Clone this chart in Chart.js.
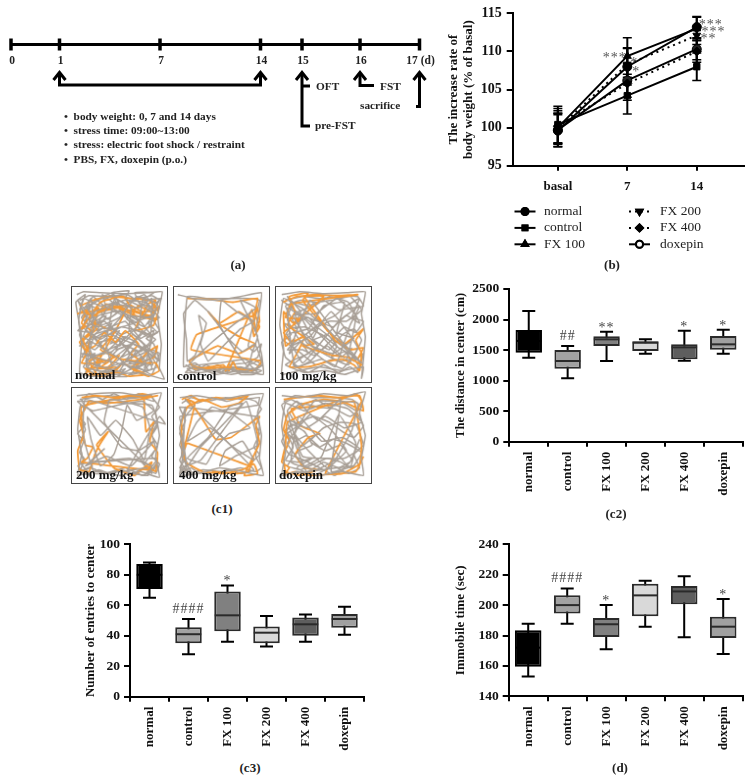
<!DOCTYPE html>
<html>
<head>
<meta charset="utf-8">
<script src="https://cdn.jsdelivr.net/npm/chart.js"></script>
<style>
body { margin: 0; background: #fff; }
#page { position: relative; width: 752px; height: 783px; overflow: hidden; font-family: "Liberation Serif", serif; color: #111; }
canvas { position: absolute; }
.t { position: absolute; transform: translateY(-50%); font-weight: bold; font-size: 11.3px; white-space: nowrap; color: #222; }
.cap { position: absolute; transform: translate(-50%, -50%); font-weight: bold; font-size: 13px; color: #222; }
.lab { position: absolute; transform: translateY(-50%); font-weight: bold; font-size: 13px; color: #111; z-index: 3; }
.panel { border: 1.5px solid #444; box-sizing: border-box; }
</style>
</head>
<body>
<div id="page">
  <canvas id="timeline" width="440" height="280" style="left:0;top:0"></canvas>
  <canvas id="weight" width="312" height="280" style="left:440px;top:0"></canvas>
  <canvas id="c1a" class="panel" width="97" height="97" style="left:71px;top:286px"></canvas>
  <canvas id="c1b" class="panel" width="97" height="97" style="left:173px;top:286px"></canvas>
  <canvas id="c1c" class="panel" width="97" height="97" style="left:275px;top:286px"></canvas>
  <canvas id="c1d" class="panel" width="97" height="97" style="left:71px;top:387px"></canvas>
  <canvas id="c1e" class="panel" width="97" height="97" style="left:173px;top:387px"></canvas>
  <canvas id="c1f" class="panel" width="97" height="97" style="left:275px;top:387px"></canvas>
  <canvas id="c2" width="312" height="250" style="left:440px;top:270px"></canvas>
  <canvas id="c3" width="300" height="230" style="left:70px;top:530px"></canvas>
  <canvas id="d" width="312" height="230" style="left:440px;top:530px"></canvas>

  <div class="t" style="left:316px;top:86px">OFT</div>
  <div class="t" style="left:380px;top:86px">FST</div>
  <div class="t" style="left:360px;top:105px">sacrifice</div>
  <div class="t" style="left:315px;top:125px">pre-FST</div>
  <div class="t" style="left:64px;top:116px">•&nbsp;&nbsp;body weight: 0, 7 and 14 days</div>
  <div class="t" style="left:64px;top:130px">•&nbsp;&nbsp;stress time: 09:00~13:00</div>
  <div class="t" style="left:64px;top:144px">•&nbsp;&nbsp;stress: electric foot shock / restraint</div>
  <div class="t" style="left:64px;top:159px">•&nbsp;&nbsp;PBS, FX, doxepin (p.o.)</div>

  <div class="lab" style="left:75px;top:375px">normal</div>
  <div class="lab" style="left:177px;top:376px">control</div>
  <div class="lab" style="left:279px;top:376px">100 mg/kg</div>
  <div class="lab" style="left:76px;top:475px">200 mg/kg</div>
  <div class="lab" style="left:179px;top:475px">400 mg/kg</div>
  <div class="lab" style="left:279px;top:475px">doxepin</div>

  <div class="cap" style="left:238px;top:265px">(a)</div>
  <div class="cap" style="left:612px;top:265px">(b)</div>
  <div class="cap" style="left:222px;top:509px">(c1)</div>
  <div class="cap" style="left:616px;top:514px">(c2)</div>
  <div class="cap" style="left:250px;top:768px">(c3)</div>
  <div class="cap" style="left:620px;top:768px">(d)</div>
</div>

<script>
// groups
const groups = ["normal", "control", "FX 100", "FX 200", "FX 400", "doxepin"];
const boxColors = ["#000000", "#a2a2a2", "#808080", "#d9d9d9", "#5e5e5e", "#a0a0a0"];

// (a) schedule
const days = ["0", "1", "7", "14", "15", "16", "17 (d)"];
const daySlots = [0.22, 1.19, 3.2, 5.21, 6.04, 7.2, 8.39];
const bracketPath = [[1.19, 1.46], [1.19, 1.7], [5.21, 1.7], [5.21, 1.46]];
const oftPath = [[6.04, 1.46], [6.04, 2.52], [6.2, 2.52]];
const oftBranch = [[6.04, 1.72], [6.2, 1.72]];
const fstPath = [[7.2, 1.46], [7.2, 1.71], [7.48, 1.71]];
const sacrificePath = [[8.39, 1.46], [8.39, 2.13], [8.32, 2.13]];
const arrowSlots = [1.19, 5.21, 6.04, 7.2, 8.39];

// (b) body weight
const weightLabels = ["basal", "7", "14"];
const weightNormal = [99.6, 108, 113.2];
const weightControl = [100.4, 104.2, 108];
const weightFx100 = [100, 109.4, 113];
const weightFx200 = [99.9, 108.3, 112.1];
const weightFx400 = [100.2, 105.8, 110];
const weightDoxepin = [99.7, 106.2, 110.3];
const errNormal = [2.1, 2.4, 1.4];
const errControl = [2.4, 2.4, 1.8];
const errFx100 = [2.2, 2.4, 1.5];
const errFx200 = [2.0, 2.2, 1.2];
const errFx400 = [2.3, 2.2, 1.4];
const errDoxepin = [2.2, 2.2, 1.4];
// star text, x on the day axis (0 = basal), y on the value axis
const weightStars = [
    ["***", 2.2, 113.8], ["***", 2.24, 112.8], ["**", 2.17, 111.9],
    ["***", 0.82, 109.4], ["*", 1.1, 108.7], ["*", 1.13, 107.6]
];

// (c2) distance in center
const c2Low = [1376, 1037, 1321, 1441, 1327, 1441];
const c2Q1 = [1458, 1196, 1567, 1485, 1349, 1507];
const c2Med = [1650, 1321, 1676, 1620, 1545, 1594];
const c2Q3 = [1829, 1501, 1725, 1643, 1594, 1731];
const c2High = [2140, 1567, 1802, 1676, 1818, 1834];
const c2Marks = ["", "##", "**", "", "*", "*"];

// (c3) entries to center
const c3Low = [65, 27.8, 36, 33, 36, 40.7];
const c3Q1 = [70.7, 35, 43, 35, 40, 45.3];
const c3Med = [80, 41, 53.4, 42, 47.5, 51];
const c3Q3 = [87, 45.5, 69, 46, 52, 54.3];
const c3High = [88, 51, 73, 53, 54, 59];
const c3Marks = ["", "####", "*", "", "", ""];

// (d) immobile time
const dLow = [153, 187.8, 171, 185.8, 178.8, 167.9];
const dQ1 = [159.5, 194.4, 179, 192.6, 200.5, 178.4];
const dMed = [172, 200, 187.4, 206.4, 209, 185.8];
const dQ3 = [183.4, 206.5, 191.5, 214, 212.6, 192.4];
const dHigh = [187.8, 211, 200, 216, 219, 204];
const dMarks = ["", "####", "*", "", "", "*"];

// (c1) open field tracks, traced by eye, x y x y ... on a 0-100 square
const normalGrey = [5,8, 12,5, 30,6, 55,7, 80,6, 95,5, 90,30, 94,60, 92,85, 97,97, 70,90, 45,92, 20,94, 8,90, 10,60, 7,35, 12,12, 30,20, 55,14, 78,16, 88,28, 70,35, 50,25, 28,30, 15,45, 30,55, 52,42, 75,48, 88,55, 72,68, 52,60, 30,70, 14,78, 35,85, 60,78, 85,82, 75,60, 60,45, 62,22, 45,12, 40,35, 36,60, 42,82, 55,70, 68,55, 82,40, 90,18, 68,10, 50,32, 25,42, 12,25, 20,12, 22,35, 18,62, 28,88, 50,88, 65,65, 78,78, 88,70, 60,58, 40,50, 18,55, 38,22, 60,30, 85,32, 75,12, 70,40, 55,55, 42,68, 22,72, 10,70, 32,76, 55,82, 80,88, 72,74, 62,86, 48,74, 28,62, 12,52, 24,26, 46,18, 70,22, 84,12, 82,58, 65,72, 38,90, 15,84, 24,50, 44,44, 66,38, 80,24, 58,8, 32,12, 16,22, 34,44, 56,36, 72,54, 86,46, 76,86];
const normalGreyUnder = [8,14, 18,9, 36,10, 50,9, 66,13, 84,9, 92,14, 86,22, 74,18, 60,26, 46,16, 34,26, 20,20, 10,32, 18,40, 30,36, 44,30, 58,20, 72,28, 86,36, 92,46, 80,52, 66,44, 52,50, 38,40, 26,48, 14,60, 24,66, 36,54, 50,62, 64,50, 78,62, 90,76, 78,68, 64,60, 48,66, 34,80, 20,74, 12,84, 26,92, 40,86, 54,90, 68,84, 84,92, 92,70, 84,66, 70,72, 56,76, 44,88, 30,84, 16,70, 8,50, 20,30, 40,24, 62,34, 76,42, 88,24, 76,8, 56,18, 38,8, 22,16, 12,42, 28,58, 46,54, 60,68, 74,80, 58,94, 36,94, 18,88];
const normalGreyMore = [4,16, 14,8, 8,24, 20,18, 12,32, 28,24, 20,38, 36,30, 26,46, 42,38, 34,52, 50,46, 40,60, 56,52, 46,66, 62,60, 52,74, 68,66, 60,80, 76,74, 66,86, 84,78, 74,90, 90,84, 82,70, 92,78, 86,60, 78,54, 90,48, 80,38, 92,32, 82,22, 94,12, 74,14, 86,6, 66,6, 72,20, 56,12, 60,4, 42,6, 48,20, 32,8, 36,22, 22,10, 14,24, 6,14, 16,36, 6,46, 18,48, 8,62, 20,58, 10,74, 24,70, 14,90, 30,80, 22,94, 42,84, 34,94, 56,86, 48,94, 70,82, 62,92, 84,86, 76,62, 64,74, 50,56, 36,68, 24,54, 40,44, 56,28, 68,42, 84,52, 72,36, 54,22, 38,34, 26,20, 44,8, 58,34, 74,46, 60,62, 44,74, 30,60, 18,44, 34,36, 48,50, 64,56, 80,70, 68,80, 52,82];
const normalOrange = [8,20, 22,14, 40,10, 62,12, 82,14, 90,24, 74,26, 60,18, 66,30, 48,22, 30,26, 18,34, 26,44, 12,56, 20,72, 34,78, 50,72, 38,84, 14,86, 22,92, 48,90, 60,94, 78,92, 62,84, 86,74, 90,62, 78,70, 70,78, 52,76, 30,66, 44,48, 22,38, 10,44, 30,16, 54,10, 64,24, 82,30, 92,20, 86,40, 66,46, 80,18, 88,14, 84,26, 70,20, 62,28, 74,32, 90,34, 36,18, 24,30, 16,28, 28,22, 14,72, 10,80, 26,80, 42,76, 28,86, 50,84, 36,92, 14,92, 30,74, 58,20, 6,28, 16,24, 10,38, 20,46, 8,58, 14,66, 24,62, 34,48, 46,58, 56,46, 70,60, 62,70, 76,80, 88,80, 92,88, 80,94, 66,88, 54,80, 42,92, 28,94, 18,78, 34,70];
const controlGrey = [4,8, 20,12, 45,14, 70,10, 92,6, 90,25, 86,45, 92,70, 94,92, 70,88, 45,92, 20,84, 12,90, 30,90, 55,86, 80,90, 93,82, 85,60, 72,68, 55,52, 38,28, 22,14, 10,28, 13,55, 14,78, 22,72, 30,50, 26,30, 34,38, 28,60, 36,78, 50,64, 70,44, 84,36, 66,26, 50,14, 48,40, 64,66, 78,84, 82,70, 88,52, 70,14, 86,22, 62,40, 40,58, 16,82, 48,80, 74,76, 90,84, 60,92, 28,86];
const controlGreyUnder = [12,82, 24,88, 38,84, 52,90, 66,84, 80,86, 92,88, 84,92, 70,92, 58,82, 76,80, 88,74, 92,60, 84,68, 78,62, 86,30, 90,14, 78,12, 60,12, 34,12, 14,10];
const controlGreyMore = [10,84, 22,80, 34,88, 46,82, 58,90, 70,84, 82,88, 92,82, 84,76, 74,86, 60,84, 48,90, 34,82, 20,90, 14,86, 28,84, 42,88, 56,84, 72,90, 88,90, 80,82, 92,76];
const controlOrange = [14,12, 38,13, 62,16, 88,12, 85,28, 90,42, 84,52, 82,36, 68,26, 48,38, 36,26, 44,36, 58,46, 72,54, 86,60, 68,70, 46,62, 30,70, 16,78, 22,86, 38,84, 52,82, 58,88, 62,78, 66,86, 84,88, 92,78, 18,66, 24,50, 84,30, 88,22, 90,36, 86,46, 82,24, 58,80, 54,88, 60,84, 30,86, 18,82];
const fx100Grey = [6,8, 25,5, 50,7, 75,6, 94,5, 90,28, 94,52, 92,76, 90,96, 92,84, 70,88, 45,84, 24,88, 6,92, 8,65, 4,40, 8,12, 30,24, 54,44, 76,68, 90,80, 70,58, 52,34, 36,14, 24,40, 14,70, 26,58, 44,72, 62,84, 78,40, 88,20, 66,36, 46,60, 28,80, 12,50, 34,44, 50,20, 72,16, 64,48, 82,54, 60,70, 38,62, 18,30, 42,28, 64,12, 84,30, 74,76, 52,56, 30,34, 12,22, 20,84, 48,76, 70,86, 86,64, 58,26, 36,52, 16,62];
const fx100GreyUnder = [10,14, 28,10, 46,12, 66,10, 86,10, 92,20, 80,22, 66,24, 50,14, 34,20, 18,16, 12,34, 22,52, 34,70, 20,76, 10,82, 30,90, 52,88, 72,92, 88,86, 80,72, 66,64, 48,50, 30,42, 14,44, 8,56, 24,68, 42,82, 60,76, 76,82, 90,56, 82,44, 70,50, 56,66, 40,56, 26,30, 44,36, 60,42, 74,30, 88,38, 76,16, 56,10, 40,20, 20,28, 32,58, 50,70, 66,78, 84,74];
const fx100GreyMore = [6,14, 18,22, 12,10, 26,26, 20,38, 34,32, 44,44, 38,56, 54,50, 64,62, 58,74, 72,68, 82,78, 92,70, 86,90, 78,84, 66,90, 50,82, 34,90, 18,82, 30,72, 44,62, 32,50, 46,38, 62,30, 74,20, 88,12, 80,32, 92,36, 84,48, 72,42, 60,54, 48,66, 36,78, 24,84, 10,74, 6,58, 16,50, 8,38, 22,44, 10,20, 26,14, 42,16, 58,14, 78,10, 90,24, 74,36, 56,36, 40,44, 22,56, 12,66, 28,66, 40,72, 54,62, 68,74, 80,64];
const fx100Orange = [7,16, 22,10, 42,8, 66,9, 86,8, 16,18, 10,32, 26,34, 8,48, 16,58, 30,52, 22,70, 14,84, 34,84, 56,78, 70,76, 82,82, 88,88, 90,70, 84,56, 92,44, 72,60, 54,46, 36,24, 28,14, 34,6, 14,10, 20,26, 12,40, 40,60, 28,62, 60,72, 76,74, 90,82, 86,76, 92,64, 78,66, 62,56, 48,36, 30,10, 50,10, 18,38, 8,26, 10,62, 20,54];
const fx200Grey = [5,8, 24,6, 50,5, 75,8, 94,5, 88,25, 92,50, 88,72, 92,94, 72,88, 50,92, 24,88, 6,92, 10,70, 6,44, 9,18, 22,24, 48,18, 74,14, 86,24, 68,34, 58,18, 52,46, 44,70, 30,82, 20,54, 16,30, 30,50, 46,34, 64,54, 76,76, 82,42, 74,20, 40,12, 34,36, 52,62, 70,66, 86,56, 62,82, 36,72, 14,82, 34,64, 20,78, 60,74, 84,82, 80,92, 58,88, 92,30, 98,38, 14,12, 12,50, 24,90, 78,84];
const fx200GreyUnder = [8,12, 20,10, 38,8, 60,10, 84,8, 86,14, 72,10, 50,12, 30,14, 14,18, 10,32, 14,44, 8,58, 12,78, 8,88, 20,84, 34,90, 56,84, 74,92, 86,86, 90,78, 82,88, 76,80, 88,64, 84,48, 90,36, 84,18];
const fx200GreyMore = [6,14, 14,22, 8,30, 14,38, 6,48, 12,56, 8,68, 14,76, 6,82, 16,90, 28,86, 40,90, 52,86, 64,90, 76,84, 88,90, 92,80, 84,72, 90,60, 84,50, 90,40, 84,30, 92,20, 84,10, 70,6, 58,12, 44,6, 32,12, 18,6, 10,14, 76,80, 84,90, 70,74, 84,84, 76,92, 90,74, 10,80, 20,92, 8,88, 22,82];
const fx200Orange = [10,10, 24,8, 42,10, 62,8, 78,10, 90,8, 72,12, 56,14, 36,16, 18,14, 8,34, 12,50, 6,66, 8,86, 18,88, 24,70, 30,58, 38,46, 26,60, 44,84, 66,92, 78,82, 88,88, 90,68, 82,56, 86,36, 78,46, 76,10, 82,8, 74,6, 10,20, 14,60, 22,62, 16,74, 10,78, 80,86, 84,78, 70,88];
const fx400Grey = [6,10, 24,8, 48,12, 72,8, 94,6, 88,26, 92,50, 90,74, 94,92, 72,88, 48,84, 26,90, 6,92, 10,68, 6,42, 12,20, 10,56, 14,82, 28,62, 50,40, 72,16, 58,20, 36,52, 14,74, 34,80, 44,62, 58,48, 80,42, 62,28, 40,20, 24,36, 14,56, 38,42, 62,62, 84,76, 72,56, 54,66, 48,82, 64,72, 88,60, 76,14, 52,44, 28,76, 8,84, 18,88, 8,72, 12,30, 22,18];
const fx400GreyUnder = [8,16, 18,10, 34,14, 54,10, 74,12, 90,10, 88,18, 6,30, 10,46, 6,60, 12,74, 6,84, 14,90, 30,86, 52,88, 70,84, 86,88, 92,84, 86,72, 90,40, 86,30];
const fx400GreyMore = [6,20, 12,34, 6,48, 12,62, 6,76, 14,88, 10,70, 14,80, 6,90, 18,84, 24,88, 40,92, 56,86, 70,90, 84,86, 12,12, 24,16, 40,10, 56,14, 72,10, 86,14, 92,22, 84,34, 90,48, 84,62, 90,70, 78,82];
const fx400Orange = [8,12, 18,8, 28,14, 44,10, 60,12, 78,8, 68,16, 50,20, 30,12, 14,20, 8,36, 8,60, 12,78, 30,88, 52,90, 72,86, 84,80, 88,90, 74,92, 90,58, 86,40, 90,30, 60,52, 44,54, 32,36, 24,24, 14,12, 22,16, 10,66, 14,58, 80,82, 84,74, 78,88, 66,90, 40,88];
const doxepinGrey = [6,8, 25,10, 50,6, 75,8, 94,4, 88,26, 94,50, 90,74, 92,92, 70,88, 46,92, 22,88, 6,92, 10,68, 6,40, 10,16, 30,24, 52,16, 76,22, 90,36, 72,42, 52,30, 32,42, 14,34, 26,62, 44,48, 60,64, 78,84, 84,58, 66,28, 48,72, 30,82, 12,58, 36,28, 58,44, 74,66, 54,84, 34,66, 20,48, 40,14, 64,14, 86,16, 80,44, 62,76, 42,86, 16,78, 24,30, 48,56, 70,52, 88,64, 72,74, 28,72, 12,24, 22,14, 44,34, 68,12, 58,88, 82,82, 18,90];
const doxepinGreyUnder = [8,14, 20,8, 38,10, 58,10, 80,12, 90,20, 78,30, 62,22, 44,20, 26,16, 14,26, 22,40, 12,48, 18,62, 10,76, 24,78, 38,74, 22,84, 40,92, 60,82, 76,90, 88,84, 82,70, 92,60, 84,38, 68,36, 50,42, 36,56, 52,66, 68,60, 80,76, 66,84, 50,78, 32,88];
const doxepinGreyMore = [6,18, 16,12, 28,18, 42,12, 56,20, 70,16, 84,24, 92,40, 82,52, 70,46, 56,36, 40,30, 24,36, 10,44, 20,56, 32,50, 46,62, 60,54, 74,58, 90,68, 80,84, 68,78, 54,74, 40,80, 26,86, 12,82, 24,66, 38,60, 30,46, 16,38, 6,56, 14,70, 30,76, 46,84, 62,92, 78,78, 88,54];
const doxepinOrange = [8,12, 24,10, 44,8, 66,10, 88,8, 92,24, 70,14, 50,12, 30,16, 12,28, 8,44, 14,56, 8,70, 10,88, 26,92, 44,86, 30,84, 20,70, 34,52, 46,48, 26,40, 16,22, 60,18, 82,14, 90,60, 88,80, 70,90, 52,90, 90,14, 84,6, 12,36, 10,60, 6,78, 14,84, 8,92, 20,88, 36,92, 84,88, 92,72];

Chart.defaults.font.family = '"Liberation Serif", serif';
Chart.defaults.animation = false;
Chart.defaults.responsive = false;
Chart.defaults.layout.autoPadding = false;
Chart.defaults.plugins.legend.display = false;
Chart.defaults.plugins.tooltip.enabled = false;

function pathData(path)
{
    return path.map(p => ({ x: p[0], y: p[1] }));
}

function trackData(flat)
{
    let points = [];
    for (let i = 0; i < flat.length; i += 2)
    {
        points.push({ x: flat[i], y: flat[i + 1] });
    }
    return points;
}

function schematicLine(path)
{
    return { data: pathData(path), showLine: true, borderColor: "#000", borderWidth: 3, pointRadius: 0, borderJoinStyle: "miter" };
}

function createTimeline()
{
    let datasets = [
        schematicLine(daySlots.map(s => [s, 0.89])),
        schematicLine(bracketPath),
        schematicLine(oftPath),
        schematicLine(oftBranch),
        schematicLine(fstPath),
        schematicLine(sacrificePath),
        // day tick marks
        { data: daySlots.map(s => ({ x: s, y: 0.89 })), pointStyle: "line", rotation: 90, pointRadius: 6, pointBorderWidth: 3.5, pointBorderColor: "#000", showLine: false }
    ];
    arrowSlots.forEach(s =>
    {
        datasets.push(schematicLine([[s - 0.12, 1.6], [s, 1.45], [s + 0.12, 1.6]]));
    });

    const dayLabels = {
        id: "dayLabels",
        afterDraw(chart)
        {
            const ctx = chart.ctx;
            ctx.save();
            ctx.font = "bold 11.5px 'Liberation Serif'";
            ctx.fillStyle = "#222";
            ctx.textAlign = "center";
            ctx.textBaseline = "middle";
            days.forEach((d, i) =>
            {
                ctx.fillText(d, chart.scales.x.getPixelForValue(daySlots[i]) + 1, chart.scales.y.getPixelForValue(1.22));
            });
            ctx.restore();
        }
    };

    new Chart(document.getElementById("timeline"), {
        type: "scatter",
        data: { datasets: datasets },
        plugins: [dayLabels],
        options: {
            layout: { padding: 0 },
            scales: {
                x: { display: false, min: 0, max: 8.8 },
                y: { display: false, min: 0, max: 5.6, reverse: true }
            }
        }
    });
}

function createWeight()
{
    const series = [
        { label: "normal", values: weightNormal, errs: errNormal, style: "circle", dash: [], fill: "#000" },
        { label: "control", values: weightControl, errs: errControl, style: "rect", dash: [], fill: "#000" },
        { label: "FX 100", values: weightFx100, errs: errFx100, style: "triangle", dash: [], fill: "#000" },
        { label: "FX 200", values: weightFx200, errs: errFx200, style: "triangle", rotation: 180, dash: [2, 4], fill: "#000" },
        { label: "FX 400", values: weightFx400, errs: errFx400, style: "rectRot", dash: [2, 4], fill: "#000" },
        { label: "doxepin", values: weightDoxepin, errs: errDoxepin, style: "circle", dash: [], fill: "#222" }
    ];

    const extras = {
        id: "weightExtras",
        beforeDatasetsDraw(chart)
        {
            const ctx = chart.ctx, xs = chart.scales.x, ys = chart.scales.y;
            ctx.save();
            ctx.strokeStyle = "#000";
            series.forEach(s =>
            {
                s.values.forEach((v, i) =>
                {
                    const x = xs.getPixelForValue(i);
                    const top = ys.getPixelForValue(v + s.errs[i]);
                    const bottom = ys.getPixelForValue(v - s.errs[i]);
                    ctx.lineWidth = 2;
                    ctx.beginPath();
                    ctx.moveTo(x, top);
                    ctx.lineTo(x, bottom);
                    ctx.stroke();
                    ctx.lineWidth = 1.5;
                    ctx.beginPath();
                    ctx.moveTo(x - 4.5, top);
                    ctx.lineTo(x + 4.5, top);
                    ctx.moveTo(x - 4.5, bottom);
                    ctx.lineTo(x + 4.5, bottom);
                    ctx.stroke();
                });
            });
            ctx.restore();
        },
        afterDraw(chart)
        {
            const ctx = chart.ctx, xs = chart.scales.x, ys = chart.scales.y;
            ctx.save();
            ctx.font = "14px 'Liberation Serif'";
            ctx.letterSpacing = "1px";
            ctx.fillStyle = "#555";
            ctx.textAlign = "center";
            ctx.textBaseline = "alphabetic";
            weightStars.forEach(s =>
            {
                ctx.fillText(s[0], xs.getPixelForValue(s[1]), ys.getPixelForValue(s[2]) + 6);
            });
            ctx.letterSpacing = "0px";

            // legend, two columns of three
            ctx.font = "13.5px 'Liberation Serif'";
            ctx.fillStyle = "#222";
            ctx.textAlign = "left";
            ctx.textBaseline = "middle";
            series.forEach((s, i) =>
            {
                const col = i < 3 ? 0 : 1;
                const y = 211.5 + (i % 3) * 16.4;
                const x0 = col ? 189 : 74.5;
                const x1 = x0 + 21;
                ctx.strokeStyle = "#000";
                ctx.lineWidth = 2;
                ctx.setLineDash(s.dash);
                ctx.beginPath();
                ctx.moveTo(x0, y);
                ctx.lineTo(x1, y);
                ctx.stroke();
                ctx.setLineDash([]);
                ctx.fillStyle = s.label == "doxepin" ? "#fff" : "#000";
                Chart.helpers.drawPoint(ctx, { pointStyle: s.style, rotation: s.rotation || 0, radius: 3.5, borderWidth: 1.5 }, (x0 + x1) / 2, y);
                ctx.fill();
                ctx.stroke();
                ctx.fillStyle = "#222";
                ctx.fillText(s.label, col ? 220 : 104, y);
            });
            ctx.restore();
        }
    };

    new Chart(document.getElementById("weight"), {
        type: "scatter",
        data: {
            datasets: series.map(s => ({
                label: s.label,
                data: s.values.map((v, i) => ({ x: i, y: v })),
                showLine: true,
                borderColor: "#000",
                borderWidth: 2,
                borderDash: s.dash,
                pointStyle: s.style,
                rotation: s.rotation || 0,
                pointRadius: 4.5,
                pointBackgroundColor: s.fill,
                pointBorderColor: "#000",
                pointBorderWidth: 1
            }))
        },
        plugins: [extras],
        options: {
            layout: { padding: { left: 0, right: 8, top: 12.7, bottom: 0 } },
            scales: {
                x: {
                    min: -0.65, max: 2.68,
                    afterBuildTicks(axis) { axis.ticks = weightLabels.map((l, i) => ({ value: i })); },
                    afterFit(axis) { axis.height = 114.3; },
                    ticks: {
                        autoSkip: false, color: "#111", padding: 8, maxRotation: 0,
                        font: { size: 13, weight: "bold" },
                        callback: v => weightLabels[v]
                    },
                    grid: { drawOnChartArea: false, color: "#000", lineWidth: 2, tickLength: 5 },
                    border: { color: "#000", width: 2 }
                },
                y: {
                    min: 95, max: 115,
                    afterFit(axis) { axis.width = 72.7; },
                    ticks: { stepSize: 5, color: "#111", padding: 5, font: { size: 14, weight: "bold" } },
                    grid: { drawOnChartArea: false, color: "#000", lineWidth: 2, tickLength: 6 },
                    border: { color: "#000", width: 2 },
                    title: {
                        display: true, color: "#111", padding: { top: 6, bottom: 0 },
                        text: ["The increase rate of", "body weight (% of basal)"],
                        font: { size: 13, weight: "bold", lineHeight: 1.15 }
                    }
                }
            }
        }
    });
}

function createBox(id, low, q1, med, q3, high, marks, yMin, yMax, step, titleText, area)
{
    const boxParts = {
        id: "boxParts",
        beforeDatasetsDraw(chart)
        {
            const ctx = chart.ctx, xs = chart.scales.x, ys = chart.scales.y;
            ctx.save();
            ctx.strokeStyle = "#000";
            ctx.lineWidth = 2;
            groups.forEach((g, i) =>
            {
                const x = xs.getPixelForValue(i);
                ctx.beginPath();
                ctx.moveTo(x, ys.getPixelForValue(low[i]));
                ctx.lineTo(x, ys.getPixelForValue(high[i]));
                ctx.moveTo(x - 6.5, ys.getPixelForValue(low[i]));
                ctx.lineTo(x + 6.5, ys.getPixelForValue(low[i]));
                ctx.moveTo(x - 6.5, ys.getPixelForValue(high[i]));
                ctx.lineTo(x + 6.5, ys.getPixelForValue(high[i]));
                ctx.stroke();
            });
            ctx.restore();
        },
        afterDatasetsDraw(chart)
        {
            const ctx = chart.ctx, xs = chart.scales.x, ys = chart.scales.y;
            const half = chart.getDatasetMeta(0).data[0].width / 2 - 0.5;
            ctx.save();
            ctx.lineWidth = 2;
            ctx.font = "14px 'Liberation Serif'";
            ctx.fillStyle = "#444";
            ctx.textAlign = "center";
            ctx.textBaseline = "alphabetic";
            ctx.letterSpacing = "1px";
            groups.forEach((g, i) =>
            {
                const x = xs.getPixelForValue(i);
                ctx.strokeStyle = i == 0 ? "#000" : "#2a2a2a";
                ctx.beginPath();
                ctx.moveTo(x - half, ys.getPixelForValue(med[i]));
                ctx.lineTo(x + half, ys.getPixelForValue(med[i]));
                ctx.stroke();
                if (marks[i])
                {
                    const gap = marks[i][0] == "#" ? 6 : 0;
                    ctx.fillText(marks[i], x, ys.getPixelForValue(high[i]) - gap);
                }
            });
            ctx.restore();
        }
    };

    new Chart(document.getElementById(id), {
        type: "bar",
        data: {
            labels: groups,
            datasets: [{
                data: q1.map((v, i) => [v, q3[i]]),
                backgroundColor: boxColors,
                borderColor: boxColors.map((c, i) => i == 0 ? "#000" : "#2a2a2a"),
                borderWidth: 2,
                borderSkipped: false,
                barPercentage: 0.68,
                categoryPercentage: 1
            }]
        },
        plugins: [boxParts],
        options: {
            layout: { padding: { left: 0, right: area.right, top: area.top, bottom: 0 } },
            scales: {
                x: {
                    afterFit(axis) { axis.height = area.xHeight; },
                    ticks: {
                        autoSkip: false, minRotation: 90, maxRotation: 90, color: "#111", padding: 5,
                        font: { size: 13, weight: "bold" }
                    },
                    grid: { drawOnChartArea: false, color: "#000", lineWidth: 2, tickLength: 5 },
                    border: { color: "#000", width: 2 }
                },
                y: {
                    min: yMin, max: yMax,
                    afterFit(axis) { axis.width = area.yWidth; },
                    ticks: { stepSize: step, color: "#111", padding: 4, font: { size: 13.5, weight: "bold" }, callback: v => String(v) },
                    grid: { drawOnChartArea: false, color: "#000", lineWidth: 2, tickLength: 6 },
                    border: { color: "#000", width: 2 },
                    title: {
                        display: true, text: titleText, color: "#111", padding: { top: area.titleTop, bottom: 0 },
                        font: { size: area.titleSize, weight: "bold" }
                    }
                }
            }
        }
    });
}

function createTrack(id, grey, greyUnder, orange)
{
    const line = (flat, color, width) => ({ data: trackData(flat), showLine: true, borderColor: color, borderWidth: width, tension: 0.1, pointRadius: 0 });
    new Chart(document.getElementById(id), {
        type: "scatter",
        data: {
            datasets: [line(grey, "#a89f96", 1.5), line(orange, "#f39a38", 1.8), line(greyUnder, "#a89f96", 1.5)]
        },
        options: {
            layout: { padding: 0 },
            scales: {
                x: { display: false, min: 0, max: 100 },
                y: { display: false, min: 0, max: 100, reverse: true }
            }
        }
    });
}

createTimeline();
createWeight();
createTrack("c1a", normalGrey, normalGreyUnder.concat(normalGreyMore), normalOrange);
createTrack("c1b", controlGrey, controlGreyUnder.concat(controlGreyMore), controlOrange);
createTrack("c1c", fx100Grey, fx100GreyUnder.concat(fx100GreyMore), fx100Orange);
createTrack("c1d", fx200Grey, fx200GreyUnder.concat(fx200GreyMore), fx200Orange);
createTrack("c1e", fx400Grey, fx400GreyUnder.concat(fx400GreyMore), fx400Orange);
createTrack("c1f", doxepinGrey, doxepinGreyUnder.concat(doxepinGreyMore), doxepinOrange);
createBox("c2", c2Low, c2Q1, c2Med, c2Q3, c2High, c2Marks, 0, 2500, 500, "The distance in center (cm)",
    { right: 9.3, top: 19, xHeight: 78.3, yWidth: 69.3, titleTop: 13, titleSize: 12.5 });
createBox("c3", c3Low, c3Q1, c3Med, c3Q3, c3High, c3Marks, 0, 100, 20, "Number of entries to center",
    { right: 6, top: 14.3, xHeight: 63.3, yWidth: 60, titleTop: 13, titleSize: 13 });
createBox("d", dLow, dQ1, dMed, dQ3, dHigh, dMarks, 140, 240, 20, "Immobile time (sec)",
    { right: 9.3, top: 14.3, xHeight: 63.7, yWidth: 68.7, titleTop: 13, titleSize: 13 });
</script>
</body>
</html>
